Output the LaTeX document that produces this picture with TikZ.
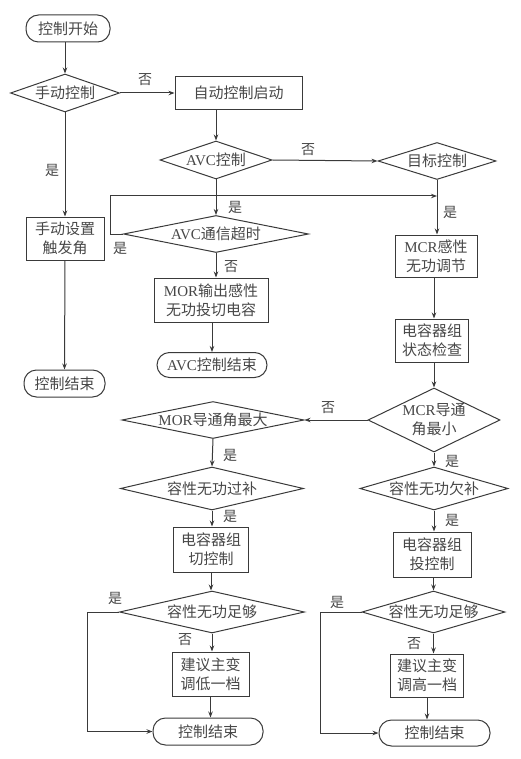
\documentclass[tikz,border=0pt]{standalone}
\usepackage{fontspec}
\setmainfont{Noto Sans CJK SC}
\newfontfamily\lat{Liberation Serif}
\usetikzlibrary{shapes.geometric,arrows.meta}
\definecolor{lc}{HTML}{3A3A3A}
\definecolor{tc}{HTML}{474747}
\begin{document}
\begin{tikzpicture}[x=1pt,y=-1pt,
  txt/.style={text=tc, font=\fontsize{15}{19}\selectfont, align=center, inner sep=0pt},
  lbl/.style={text=tc, font=\fontsize{14}{16}\selectfont, inner sep=0pt},
  box/.style={txt, draw=lc, line width=1pt, rectangle},
  term/.style={box, rounded corners=12.5pt, minimum height=27pt},
  dia/.style={draw=lc, line width=1pt, diamond, inner sep=0pt},
  line/.style={draw=lc, line width=1pt},
  arr/.style={line, -{Stealth[length=6pt,width=4.5pt]}}]
\useasboundingbox (0,0) rectangle (520,759);
% left column
\node[term, minimum width=84pt] (t1) at (68,28.5) {控制开始};
\node[dia, minimum width=109pt, minimum height=38pt] (d1) at (65,93) {};
\node[txt] (d1t) at (d1) {手动控制};
\node[box, minimum width=78pt, minimum height=43pt] (b0) at (65,238.5) {手动设置\\触发角};
\node[term, minimum width=81pt] (te) at (64.5,383.5) {控制结束};
% top middle
\node[box, minimum width=127pt, minimum height=33pt] (b1) at (238.5,93) {自动控制启动};
\node[dia, minimum width=112pt, minimum height=38pt] (d2) at (216,160) {};
\node[txt] (d2t) at (d2) {{\lat AVC}控制};
\node[dia, minimum width=118pt, minimum height=37pt] (d3) at (437,161) {};
\node[txt] (d3t) at (d3) {目标控制};
\node[dia, minimum width=185pt, minimum height=37pt] (d4) at (216,234) {};
\node[txt] (d4t) at (d4) {{\lat AVC}通信超时};
\node[box, minimum width=114pt, minimum height=44pt] (b2) at (211,300) {{\lat MOR}输出感性\\无功投切电容};
\node[term, minimum width=110pt, minimum height=25pt] (t2) at (212,365) {{\lat AVC}控制结束};
% right column
\node[box, minimum width=82pt, minimum height=42pt] (b3) at (436,256) {{\lat MCR}感性\\无功调节};
\node[box, minimum width=73pt, minimum height=43pt] (b4) at (432,340.5) {电容器组\\状态检查};
\node[dia, minimum width=132pt, minimum height=64pt] (d5) at (434,420) {};
\node[txt] (d5t) at (d5) {{\lat MCR}导通\\角最小};
\node[dia, minimum width=148pt, minimum height=43pt] (d8) at (434,488.5) {};
\node[txt] (d8t) at (d8) {容性无功欠补};
\node[box, minimum width=78pt, minimum height=45pt] (b6) at (432,554.5) {电容器组\\投控制};
\node[dia, minimum width=143pt, minimum height=42pt] (d10) at (433.5,612) {};
\node[txt] (d10t) at (d10) {容性无功足够};
\node[box, minimum width=73pt, minimum height=43pt] (b8) at (427,675.5) {建议主变\\调高一档};
\node[term, minimum width=111pt, minimum height=26pt] (t4) at (434.5,733) {控制结束};
% lower left column
\node[dia, minimum width=182pt, minimum height=37pt] (d6) at (213,420) {};
\node[txt] (d6t) at (d6) {{\lat MOR}导通角最大};
\node[dia, minimum width=183pt, minimum height=43pt] (d7) at (212,488.5) {};
\node[txt] (d7t) at (d7) {容性无功过补};
\node[box, minimum width=75pt, minimum height=45pt] (b5) at (211,549.5) {电容器组\\切控制};
\node[dia, minimum width=185pt, minimum height=42pt] (d9) at (212,612) {};
\node[txt] (d9t) at (d9) {容性无功足够};
\node[box, minimum width=77pt, minimum height=44pt] (b7) at (210.5,674) {建议主变\\调低一档};
\node[term, minimum width=110pt] (t3) at (208,731.5) {控制结束};
\coordinate (j1) at (437,196);
% connectors
\draw[arr] (t1.south -| d1.north) -- (d1.north);
\draw[arr] (d1.east) -- (b1.west);
\draw[arr] (d1.south) -- (b0.north);
\draw[arr] (b0.south) -- (te.north);
\draw[arr] (b1.south -| d2.north) -- (d2.north);
\draw[arr] (d2.east) -- (d3.west);
\draw[arr] (d2.south) -- (d4.north);
\draw[arr] (d4.west) -- ++(-13,0) |- (j1);
\draw[arr] (d3.south) -- (d3.south |- b3.north);
\draw[arr] (d4.south) -- (d4.south |- b2.north);
\draw[arr] (b2.south -| t2.north) -- (t2.north);
\draw[arr] (b3.south -| d5.north) -- (d5.north |- b4.north);
\draw[arr] (b4.south -| d5.north) -- (d5.north);
\draw[arr] (d5.west) -- (d6.east);
\draw[arr] (d5.south) -- (d8.north);
\draw[arr] (d8.south) -- (d8.south |- b6.north);
\draw[arr] (b6.south -| d10.north) -- (d10.north);
\draw[arr] (d10.south) -- (d10.south |- b8.north);
\draw[arr] (b8.south) -- (b8.south |- t4.north);
\draw[arr] (d10.west) -- ++(-41,0) |- (t4.west);
\draw[arr] (d6.south) -- (d7.north);
\draw[arr] (d7.south) -- (d7.south |- b5.north);
\draw[arr] (b5.south) -- (b5.south |- d9.north);
\draw[arr] (d9.south) -- (d9.south |- b7.north);
\draw[arr] (b7.south) -- (b7.south |- t3.north);
\draw[arr] (d9.west) -- ++(-32,0) |- (t3.west);
% labels
\node[lbl] (l1) at (145,80) {否};
\node[lbl] (l2) at (52,170) {是};
\node[lbl] (l3) at (308,150) {否};
\node[lbl] (l4) at (235,207) {是};
\node[lbl] (l5) at (120,248) {是};
\node[lbl] (l6) at (231,267) {否};
\node[lbl] (l7) at (450,212) {是};
\node[lbl] (l8) at (328,408) {否};
\node[lbl] (l9) at (230,455) {是};
\node[lbl] (l10) at (452,461) {是};
\node[lbl] (l11) at (230,516) {是};
\node[lbl] (l12) at (452,520) {是};
\node[lbl] (l13) at (115,598) {是};
\node[lbl] (l14) at (185,640) {否};
\node[lbl] (l15) at (337,602) {是};
\node[lbl] (l16) at (414,644) {否};
\end{tikzpicture}
\end{document}
